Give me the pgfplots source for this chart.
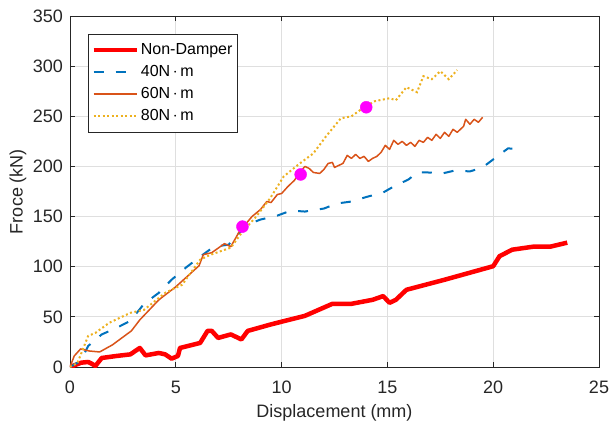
\documentclass[border=0pt]{standalone}
\usepackage{fontspec}
\setmainfont{Liberation Sans}
\usepackage{pgfplots}
\pgfplotsset{compat=1.18}
\definecolor{mred}{RGB}{255,0,0}
\definecolor{mblue}{RGB}{0,114,189}
\definecolor{morange}{RGB}{217,83,25}
\definecolor{myellow}{RGB}{237,177,32}
\definecolor{mgrid}{RGB}{223,223,223}
\definecolor{maxis}{RGB}{38,38,38}
\definecolor{mmag}{RGB}{255,0,255}
\begin{document}
\fontsize{16}{19}\selectfont
\begin{tikzpicture}
\begin{axis}[
  name=ax,
  scale only axis,
  width=529pt, height=351pt,
  xmin=0, xmax=25, ymin=0, ymax=350,
  xtick={0,5,...,25}, ytick={0,50,...,350},
  grid=major,
  major grid style={mgrid, line width=0.9pt},
  axis line style={maxis, line width=0.8pt},
  tick style={maxis, line width=0.8pt},
  tick align=inside,
  major tick length=5pt,
  /pgf/number format/assume math mode=true,
  ticklabel style={font=\fontsize{18}{21}\selectfont, text=maxis},
  xticklabel style={anchor=base, yshift=-26pt},
  yticklabel style={xshift=-1.5pt},
  xlabel={Displacement (mm)},
  ylabel={Froce (kN)},
  label style={font=\fontsize{18}{21}\selectfont, text=maxis},
  xlabel style={at={(axis description cs:0.5,0)}, anchor=base, yshift=-50pt},
  ylabel style={at={(axis description cs:0,0.5)}, anchor=center, yshift=52pt},
  legend style={at={(rel axis cs:0.0340,0.9487)}, anchor=north west,
    draw=maxis, line width=0.8pt, fill=white,
    font=\fontsize{16}{19}\selectfont,
    inner xsep=3pt, inner ysep=7pt, row sep=4.5pt,
    /tikz/every even column/.append style={column sep=2pt}},
  legend cell align=left,
  legend image code/.code={\draw[#1] (0pt,0pt) -- (43pt,0pt);},
]
\addplot[mred, line width=4.5pt, line join=round] coordinates {
(0,0) (0.53,4.3) (0.86,5) (1.05,3) (1.2,1) (1.5,9) (2.2,11) (2.85,12.6) (3.3,19)
(3.57,11.6) (4.2,14) (4.5,12.6) (4.8,8.3) (5.1,11) (5.2,19) (6.15,24) (6.5,36)
(6.7,36) (7.0,29) (7.6,32.5) (8.1,27.5) (8.4,36) (9.5,42.5) (11.1,51) (12.4,63)
(13.3,63) (14.3,67) (14.8,70.7) (15.1,64) (15.4,67) (15.9,77) (17.7,87) (20.0,100.5)
(20.3,110.5) (20.9,117) (21.9,120) (22.7,120) (23.5,124)
};
\addlegendentry{Non-Damper}
\addplot[mblue, line width=2pt, dash pattern=on 10pt off 12pt] coordinates {
(0,0) (0.5,6) (0.86,21) (1.5,32.5) (2.2,39) (2.85,46) (3.5,63) (4.2,74) (4.8,87)
(5.5,99.5) (6.15,110) (6.8,120) (7.5,122) (7.8,130) (8.5,143) (9.0,147) (9.8,151)
(10.45,156) (11.1,155) (12.0,158) (12.6,163) (13.3,165) (14.0,169.5) (14.8,174)
(15.3,180) (16.0,187) (16.4,194) (16.9,194) (17.6,193) (18.2,196) (18.9,195)
(19.5,199) (20.0,207) (20.7,218) (21.4,217)
};
\addlegendentry{40N\,$\cdot$\,m}
\addplot[morange, line width=1.5pt, line join=round] coordinates {
(0,0) (0.2,11) (0.5,18) (0.9,16) (1.4,15) (2.0,22) (2.9,36) (3.3,47) (4.2,67)
(5.0,80) (6.1,101) (6.3,112) (6.7,114) (7.3,123) (7.6,120) (8.0,135) (8.6,150)
(9.0,157) (9.3,165) (9.5,164) (9.8,172) (10.0,173) (10.3,180) (10.6,186) (10.9,195)
(11.1,200) (11.3,198) (11.5,194) (11.8,193) (12.0,197) (12.2,203) (12.4,204)
(12.5,199) (12.7,201) (12.9,203) (13.1,211) (13.3,208) (13.5,212) (13.7,208)
(13.9,210) (14.1,205) (14.3,208) (14.5,210) (14.7,214) (14.9,221) (15.1,217)
(15.3,226) (15.5,222) (15.7,225) (15.9,221) (16.1,224) (16.3,220) (16.5,226)
(16.7,224) (16.9,229) (17.1,226) (17.3,232) (17.5,228) (17.7,234) (17.9,230)
(18.1,237) (18.3,234) (18.6,240) (18.7,247) (18.9,242) (19.1,247) (19.3,244) (19.5,249)
};
\addlegendentry{60N\,$\cdot$\,m}
\addplot[myellow, line width=2pt, dash pattern=on 2pt off 2.5pt] coordinates {
(0,0) (0.35,4) (0.86,31) (1.2,34) (1.85,44) (2.85,54) (3.5,57) (4.5,74) (5.3,82)
(6.15,107) (6.65,112) (7.6,119) (8.1,133.5) (8.8,150) (9.45,168) (10.1,190)
(10.8,202) (11.5,213) (12.1,230) (12.8,248) (13.3,250) (13.9,259) (14.4,265)
(15.1,268) (15.4,266) (15.9,279) (16.4,274) (16.7,290) (17.1,287) (17.5,295)
(17.9,287) (18.3,296)
};
\addlegendentry{80N\,$\cdot$\,m}
\addplot[only marks, mark=*, mark size=6pt, color=mmag, mark options={fill=mmag, draw=mmag}, forget plot] coordinates {
(8.15,140) (10.9,192) (14.0,259)
};
\end{axis}
\pgfresetboundingbox
\path[use as bounding box] ([xshift=-70pt,yshift=-53pt]ax.south west) rectangle ([xshift=10pt,yshift=16pt]ax.north east);
\end{tikzpicture}
\end{document}
